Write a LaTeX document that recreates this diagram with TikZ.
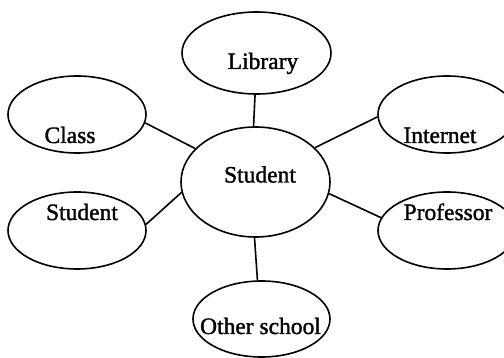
\documentclass[tikz,border=0pt]{standalone}
\usepackage{fontspec}
\setmainfont{Liberation Serif}
\newfontfamily\heavyserif{Liberation Serif}[FakeBold=1.4]
\usetikzlibrary{shapes.geometric}
\tikzset{
  bubble/.style={draw, ellipse, line width=1.6pt, inner sep=0pt},
  sidebubble/.style={bubble, minimum width=138pt, minimum height=77pt},
  word/.style={anchor=base, inner sep=0pt, font=\heavyserif\fontsize{23.5}{26}\selectfont},
  link/.style={line width=1.6pt}
}
\begin{document}
\begin{tikzpicture}[x=1pt,y=-1pt]
\useasboundingbox (0,0) rectangle (504,358);
\node[bubble, minimum width=149pt, minimum height=82pt] (lib) at (256.5,53) {};
\node[sidebubble] (cls) at (77,114.5) {};
\node[sidebubble] (net) at (447,114.5) {};
\node[bubble, minimum width=149pt, minimum height=110pt] (stu) at (255.5,182) {};
\node[sidebubble] (stl) at (77,230.5) {};
\node[sidebubble] (prf) at (447,230.5) {};
\node[bubble, minimum width=137pt, minimum height=76pt] (oth) at (261.5,319) {};

\node[word] (tlib) at (263,69) {Library};
\node[word] (tcls) at (70,143) {Class};
\node[word] (tnet) at (440,143) {Internet};
\node[word] (tstu) at (260,182.5) {Student};
\node[word] (tstl) at (82,220) {Student};
\node[word] (tprf) at (448,220) {Professor};
\node[word] (toth) at (260.5,334) {Other school};

\draw[link] (lib.-92) -- (stu.-268);
\draw[link] (cls.-7) -- (stu.151);
\draw[link] (net.182) -- (stu.30);
\draw[link] (stl.5) -- (stu.188);
\draw[link] (prf.169) -- (stu.-9);
\draw[link] (stu.-91) -- (oth.96);
\end{tikzpicture}
\end{document}
